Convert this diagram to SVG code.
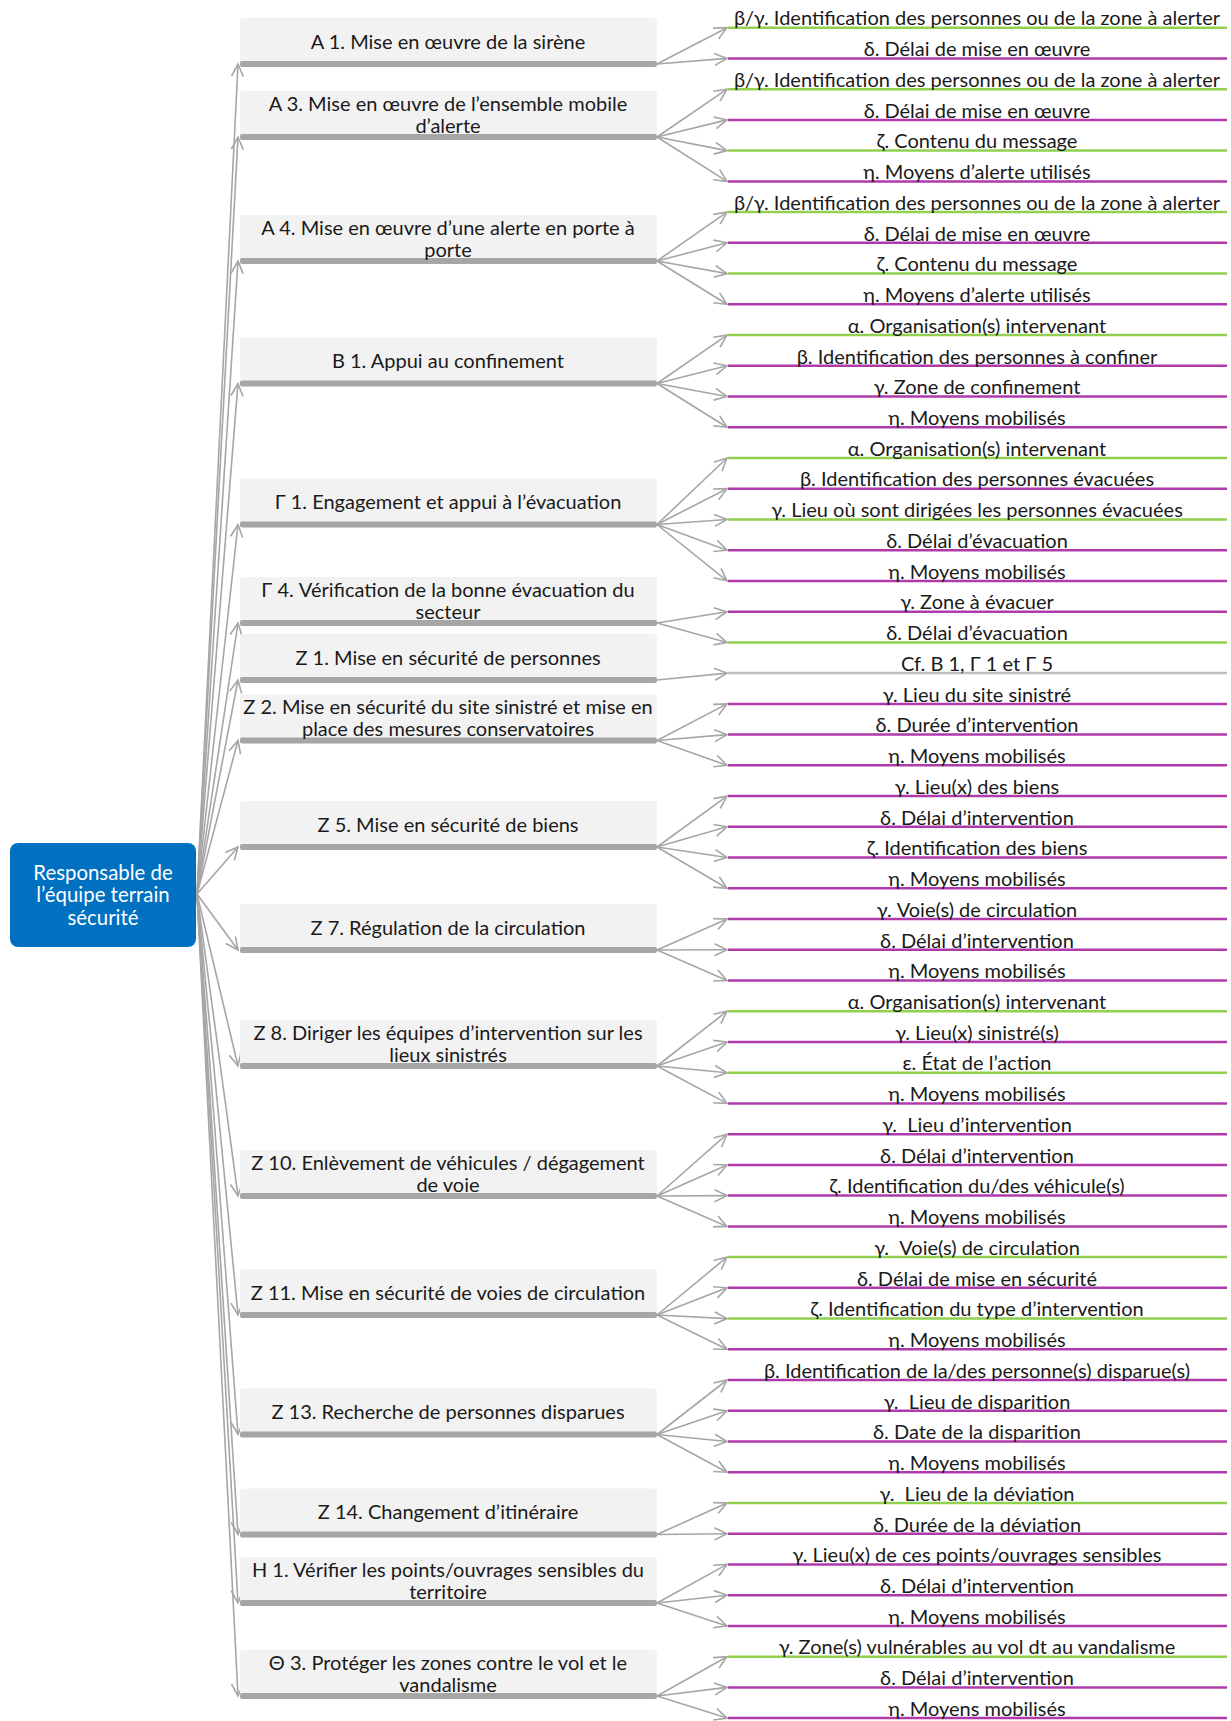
<svg xmlns="http://www.w3.org/2000/svg" width="1231" height="1721" viewBox="0 0 1231 1721">
<style>
.box{fill:#F2F2F2}
.bar{fill:#A6A6A6}
.nt{font-family:Lato,"Liberation Sans",sans-serif;font-size:20px;fill:#1a1a1a;text-anchor:middle}
.lt{font-family:Lato,"Liberation Sans",sans-serif;font-size:20px;fill:#1a1a1a;text-anchor:middle}
.rt{font-family:Lato,"Liberation Sans",sans-serif;font-size:20.4px;fill:#ffffff;text-anchor:middle}
.g{stroke:#92D050;stroke-width:2.5}
.m{stroke:#AE3AAB;stroke-width:2.5}
.k{stroke:#BFBFBF;stroke-width:2.5}
.c line{stroke:#A6A6A6;stroke-width:1.6;fill:none;marker-end:url(#ah)}
</style>
<defs>
<marker id="ah" markerUnits="userSpaceOnUse" markerWidth="16" markerHeight="16" viewBox="0 0 16 16" refX="14" refY="8" orient="auto">
<path d="M1.5,2 L14,8 L1.5,14" fill="none" stroke="#A6A6A6" stroke-width="1.6"/>
</marker>
</defs>

<g id="root">
<rect x="10" y="843" width="186" height="104" rx="8" fill="#0070C0"/>
<text class="rt" x="103" y="880">Responsable de</text>
<text class="rt" x="103" y="902">l’équipe terrain</text>
<text class="rt" x="103" y="925">sécurité</text>
</g>

<g id="connectors" class="c">
<line x1="197" y1="894" x2="238" y2="64"/>
<line x1="197" y1="894" x2="238" y2="137"/>
<line x1="197" y1="894" x2="238" y2="261"/>
<line x1="197" y1="894" x2="238" y2="383.5"/>
<line x1="197" y1="894" x2="238" y2="524.5"/>
<line x1="197" y1="894" x2="238" y2="623"/>
<line x1="197" y1="894" x2="238" y2="680"/>
<line x1="197" y1="894" x2="238" y2="740.5"/>
<line x1="197" y1="894" x2="238" y2="847"/>
<line x1="197" y1="894" x2="238" y2="950"/>
<line x1="197" y1="894" x2="238" y2="1066"/>
<line x1="197" y1="894" x2="238" y2="1196"/>
<line x1="197" y1="894" x2="238" y2="1315"/>
<line x1="197" y1="894" x2="238" y2="1434.5"/>
<line x1="197" y1="894" x2="238" y2="1534.5"/>
<line x1="197" y1="894" x2="238" y2="1603"/>
<line x1="197" y1="894" x2="238" y2="1696"/>

<line x1="657" y1="64" x2="727" y2="27.7"/>
<line x1="657" y1="64" x2="727" y2="58.4"/>
<line x1="657" y1="137" x2="727" y2="89.2"/>
<line x1="657" y1="137" x2="727" y2="119.9"/>
<line x1="657" y1="137" x2="727" y2="150.6"/>
<line x1="657" y1="137" x2="727" y2="181.4"/>
<line x1="657" y1="261" x2="727" y2="212.1"/>
<line x1="657" y1="261" x2="727" y2="242.8"/>
<line x1="657" y1="261" x2="727" y2="273.6"/>
<line x1="657" y1="261" x2="727" y2="304.3"/>
<line x1="657" y1="383.5" x2="727" y2="335.1"/>
<line x1="657" y1="383.5" x2="727" y2="365.8"/>
<line x1="657" y1="383.5" x2="727" y2="396.5"/>
<line x1="657" y1="383.5" x2="727" y2="427.3"/>
<line x1="657" y1="524.5" x2="727" y2="458"/>
<line x1="657" y1="524.5" x2="727" y2="488.7"/>
<line x1="657" y1="524.5" x2="727" y2="519.5"/>
<line x1="657" y1="524.5" x2="727" y2="550.2"/>
<line x1="657" y1="524.5" x2="727" y2="580.9"/>
<line x1="657" y1="623" x2="727" y2="611.7"/>
<line x1="657" y1="623" x2="727" y2="642.4"/>
<line x1="657" y1="680" x2="727" y2="673.1"/>
<line x1="657" y1="740.5" x2="727" y2="703.9"/>
<line x1="657" y1="740.5" x2="727" y2="734.6"/>
<line x1="657" y1="740.5" x2="727" y2="765.3"/>
<line x1="657" y1="847" x2="727" y2="796.1"/>
<line x1="657" y1="847" x2="727" y2="826.8"/>
<line x1="657" y1="847" x2="727" y2="857.5"/>
<line x1="657" y1="847" x2="727" y2="888.3"/>
<line x1="657" y1="950" x2="727" y2="919"/>
<line x1="657" y1="950" x2="727" y2="949.8"/>
<line x1="657" y1="950" x2="727" y2="980.5"/>
<line x1="657" y1="1066" x2="727" y2="1011.2"/>
<line x1="657" y1="1066" x2="727" y2="1042"/>
<line x1="657" y1="1066" x2="727" y2="1072.7"/>
<line x1="657" y1="1066" x2="727" y2="1103.4"/>
<line x1="657" y1="1196" x2="727" y2="1134.2"/>
<line x1="657" y1="1196" x2="727" y2="1164.9"/>
<line x1="657" y1="1196" x2="727" y2="1195.6"/>
<line x1="657" y1="1196" x2="727" y2="1226.4"/>
<line x1="657" y1="1315" x2="727" y2="1257.1"/>
<line x1="657" y1="1315" x2="727" y2="1287.8"/>
<line x1="657" y1="1315" x2="727" y2="1318.6"/>
<line x1="657" y1="1315" x2="727" y2="1349.3"/>
<line x1="657" y1="1434.5" x2="727" y2="1380"/>
<line x1="657" y1="1434.5" x2="727" y2="1410.8"/>
<line x1="657" y1="1434.5" x2="727" y2="1441.5"/>
<line x1="657" y1="1434.5" x2="727" y2="1472.2"/>
<line x1="657" y1="1534.5" x2="727" y2="1503"/>
<line x1="657" y1="1534.5" x2="727" y2="1533.7"/>
<line x1="657" y1="1603" x2="727" y2="1564.4"/>
<line x1="657" y1="1603" x2="727" y2="1595.2"/>
<line x1="657" y1="1603" x2="727" y2="1625.9"/>
<line x1="657" y1="1696" x2="727" y2="1656.7"/>
<line x1="657" y1="1696" x2="727" y2="1687.4"/>
<line x1="657" y1="1696" x2="727" y2="1718.1"/>
</g>

<g id="n-A1"><rect class="box" x="240" y="18" width="417" height="49" rx="3"/><rect class="bar" x="240" y="61" width="417" height="6" rx="2"/><text class="nt" x="448" y="48.5">A 1. Mise en œuvre de la sirène</text></g>
<g id="n-A3"><rect class="box" x="240" y="91" width="417" height="49" rx="3"/><rect class="bar" x="240" y="134" width="417" height="6" rx="2"/><text class="nt" x="448" y="110.5">A 3. Mise en œuvre de l’ensemble mobile</text><text class="nt" x="448" y="132.5">d’alerte</text></g>
<g id="n-A4"><rect class="box" x="240" y="215" width="417" height="49" rx="3"/><rect class="bar" x="240" y="258" width="417" height="6" rx="2"/><text class="nt" x="448" y="234.5">A 4. Mise en œuvre d’une alerte en porte à</text><text class="nt" x="448" y="256.5">porte</text></g>
<g id="n-B1"><rect class="box" x="240" y="337.5" width="417" height="49" rx="3"/><rect class="bar" x="240" y="380.5" width="417" height="6" rx="2"/><text class="nt" x="448" y="368">B 1. Appui au confinement</text></g>
<g id="n-G1"><rect class="box" x="240" y="478.5" width="417" height="49" rx="3"/><rect class="bar" x="240" y="521.5" width="417" height="6" rx="2"/><text class="nt" x="448" y="509">Γ 1. Engagement et appui à l’évacuation</text></g>
<g id="n-G4"><rect class="box" x="240" y="577" width="417" height="49" rx="3"/><rect class="bar" x="240" y="620" width="417" height="6" rx="2"/><text class="nt" x="448" y="596.5">Γ 4. Vérification de la bonne évacuation du</text><text class="nt" x="448" y="618.5">secteur</text></g>
<g id="n-Z1"><rect class="box" x="240" y="634" width="417" height="49" rx="3"/><rect class="bar" x="240" y="677" width="417" height="6" rx="2"/><text class="nt" x="448" y="664.5">Z 1. Mise en sécurité de personnes</text></g>
<g id="n-Z2"><rect class="box" x="240" y="694.5" width="417" height="49" rx="3"/><rect class="bar" x="240" y="737.5" width="417" height="6" rx="2"/><text class="nt" x="448" y="714">Z 2. Mise en sécurité du site sinistré et mise en</text><text class="nt" x="448" y="736">place des mesures conservatoires</text></g>
<g id="n-Z5"><rect class="box" x="240" y="801" width="417" height="49" rx="3"/><rect class="bar" x="240" y="844" width="417" height="6" rx="2"/><text class="nt" x="448" y="831.5">Z 5. Mise en sécurité de biens</text></g>
<g id="n-Z7"><rect class="box" x="240" y="904" width="417" height="49" rx="3"/><rect class="bar" x="240" y="947" width="417" height="6" rx="2"/><text class="nt" x="448" y="934.5">Z 7. Régulation de la circulation</text></g>
<g id="n-Z8"><rect class="box" x="240" y="1020" width="417" height="49" rx="3"/><rect class="bar" x="240" y="1063" width="417" height="6" rx="2"/><text class="nt" x="448" y="1039.5">Z 8. Diriger les équipes d’intervention sur les</text><text class="nt" x="448" y="1061.5">lieux sinistrés</text></g>
<g id="n-Z10"><rect class="box" x="240" y="1150" width="417" height="49" rx="3"/><rect class="bar" x="240" y="1193" width="417" height="6" rx="2"/><text class="nt" x="448" y="1169.5">Z 10. Enlèvement de véhicules / dégagement</text><text class="nt" x="448" y="1191.5">de voie</text></g>
<g id="n-Z11"><rect class="box" x="240" y="1269" width="417" height="49" rx="3"/><rect class="bar" x="240" y="1312" width="417" height="6" rx="2"/><text class="nt" x="448" y="1299.5">Z 11. Mise en sécurité de voies de circulation</text></g>
<g id="n-Z13"><rect class="box" x="240" y="1388.5" width="417" height="49" rx="3"/><rect class="bar" x="240" y="1431.5" width="417" height="6" rx="2"/><text class="nt" x="448" y="1419">Z 13. Recherche de personnes disparues</text></g>
<g id="n-Z14"><rect class="box" x="240" y="1488.5" width="417" height="49" rx="3"/><rect class="bar" x="240" y="1531.5" width="417" height="6" rx="2"/><text class="nt" x="448" y="1519">Z 14. Changement d’itinéraire</text></g>
<g id="n-H1"><rect class="box" x="240" y="1557" width="417" height="49" rx="3"/><rect class="bar" x="240" y="1600" width="417" height="6" rx="2"/><text class="nt" x="448" y="1576.5">H 1. Vérifier les points/ouvrages sensibles du</text><text class="nt" x="448" y="1598.5">territoire</text></g>
<g id="n-T3"><rect class="box" x="240" y="1650" width="417" height="49" rx="3"/><rect class="bar" x="240" y="1693" width="417" height="6" rx="2"/><text class="nt" x="448" y="1669.5">Θ 3. Protéger les zones contre le vol et le</text><text class="nt" x="448" y="1691.5">vandalisme</text></g>

<g id="leaves">
<g id="l0"><line class="g" x1="728" y1="27.7" x2="1227" y2="27.7"/><text class="lt" x="977" y="25">β/γ. Identification des personnes ou de la zone à alerter</text></g>
<g id="l1"><line class="m" x1="728" y1="58.4" x2="1227" y2="58.4"/><text class="lt" x="977" y="56">δ. Délai de mise en œuvre</text></g>
<g id="l2"><line class="g" x1="728" y1="89.2" x2="1227" y2="89.2"/><text class="lt" x="977" y="86.5">β/γ. Identification des personnes ou de la zone à alerter</text></g>
<g id="l3"><line class="m" x1="728" y1="119.9" x2="1227" y2="119.9"/><text class="lt" x="977" y="117.5">δ. Délai de mise en œuvre</text></g>
<g id="l4"><line class="g" x1="728" y1="150.6" x2="1227" y2="150.6"/><text class="lt" x="977" y="148">ζ. Contenu du message</text></g>
<g id="l5"><line class="m" x1="728" y1="181.4" x2="1227" y2="181.4"/><text class="lt" x="977" y="179">η. Moyens d’alerte utilisés</text></g>
<g id="l6"><line class="g" x1="728" y1="212.1" x2="1227" y2="212.1"/><text class="lt" x="977" y="209.5">β/γ. Identification des personnes ou de la zone à alerter</text></g>
<g id="l7"><line class="m" x1="728" y1="242.8" x2="1227" y2="242.8"/><text class="lt" x="977" y="240.5">δ. Délai de mise en œuvre</text></g>
<g id="l8"><line class="g" x1="728" y1="273.6" x2="1227" y2="273.6"/><text class="lt" x="977" y="271">ζ. Contenu du message</text></g>
<g id="l9"><line class="m" x1="728" y1="304.3" x2="1227" y2="304.3"/><text class="lt" x="977" y="302">η. Moyens d’alerte utilisés</text></g>
<g id="l10"><line class="g" x1="728" y1="335.1" x2="1227" y2="335.1"/><text class="lt" x="977" y="332.5">α. Organisation(s) intervenant</text></g>
<g id="l11"><line class="m" x1="728" y1="365.8" x2="1227" y2="365.8"/><text class="lt" x="977" y="363.5">β. Identification des personnes à confiner</text></g>
<g id="l12"><line class="m" x1="728" y1="396.5" x2="1227" y2="396.5"/><text class="lt" x="977" y="394">γ. Zone de confinement</text></g>
<g id="l13"><line class="m" x1="728" y1="427.3" x2="1227" y2="427.3"/><text class="lt" x="977" y="425">η. Moyens mobilisés</text></g>
<g id="l14"><line class="g" x1="728" y1="458" x2="1227" y2="458"/><text class="lt" x="977" y="455.5">α. Organisation(s) intervenant</text></g>
<g id="l15"><line class="m" x1="728" y1="488.7" x2="1227" y2="488.7"/><text class="lt" x="977" y="486">β. Identification des personnes évacuées</text></g>
<g id="l16"><line class="g" x1="728" y1="519.5" x2="1227" y2="519.5"/><text class="lt" x="977" y="517">γ. Lieu où sont dirigées les personnes évacuées</text></g>
<g id="l17"><line class="m" x1="728" y1="550.2" x2="1227" y2="550.2"/><text class="lt" x="977" y="547.5">δ. Délai d’évacuation</text></g>
<g id="l18"><line class="m" x1="728" y1="580.9" x2="1227" y2="580.9"/><text class="lt" x="977" y="578.5">η. Moyens mobilisés</text></g>
<g id="l19"><line class="m" x1="728" y1="611.7" x2="1227" y2="611.7"/><text class="lt" x="977" y="609">γ. Zone à évacuer</text></g>
<g id="l20"><line class="g" x1="728" y1="642.4" x2="1227" y2="642.4"/><text class="lt" x="977" y="640">δ. Délai d’évacuation</text></g>
<g id="l21"><line class="k" x1="728" y1="673.1" x2="1227" y2="673.1"/><text class="lt" x="977" y="670.5">Cf. B 1, Γ 1 et Γ 5</text></g>
<g id="l22"><line class="m" x1="728" y1="703.9" x2="1227" y2="703.9"/><text class="lt" x="977" y="701.5">γ. Lieu du site sinistré</text></g>
<g id="l23"><line class="m" x1="728" y1="734.6" x2="1227" y2="734.6"/><text class="lt" x="977" y="732">δ. Durée d’intervention</text></g>
<g id="l24"><line class="m" x1="728" y1="765.3" x2="1227" y2="765.3"/><text class="lt" x="977" y="763">η. Moyens mobilisés</text></g>
<g id="l25"><line class="m" x1="728" y1="796.1" x2="1227" y2="796.1"/><text class="lt" x="977" y="793.5">γ. Lieu(x) des biens</text></g>
<g id="l26"><line class="m" x1="728" y1="826.8" x2="1227" y2="826.8"/><text class="lt" x="977" y="824.5">δ. Délai d’intervention</text></g>
<g id="l27"><line class="m" x1="728" y1="857.5" x2="1227" y2="857.5"/><text class="lt" x="977" y="855">ζ. Identification des biens</text></g>
<g id="l28"><line class="m" x1="728" y1="888.3" x2="1227" y2="888.3"/><text class="lt" x="977" y="886">η. Moyens mobilisés</text></g>
<g id="l29"><line class="m" x1="728" y1="919" x2="1227" y2="919"/><text class="lt" x="977" y="916.5">γ. Voie(s) de circulation</text></g>
<g id="l30"><line class="m" x1="728" y1="949.8" x2="1227" y2="949.8"/><text class="lt" x="977" y="947.5">δ. Délai d’intervention</text></g>
<g id="l31"><line class="m" x1="728" y1="980.5" x2="1227" y2="980.5"/><text class="lt" x="977" y="978">η. Moyens mobilisés</text></g>
<g id="l32"><line class="g" x1="728" y1="1011.2" x2="1227" y2="1011.2"/><text class="lt" x="977" y="1008.5">α. Organisation(s) intervenant</text></g>
<g id="l33"><line class="m" x1="728" y1="1042" x2="1227" y2="1042"/><text class="lt" x="977" y="1039.5">γ. Lieu(x) sinistré(s)</text></g>
<g id="l34"><line class="g" x1="728" y1="1072.7" x2="1227" y2="1072.7"/><text class="lt" x="977" y="1070">ε. État de l’action</text></g>
<g id="l35"><line class="m" x1="728" y1="1103.4" x2="1227" y2="1103.4"/><text class="lt" x="977" y="1101">η. Moyens mobilisés</text></g>
<g id="l36"><line class="m" x1="728" y1="1134.2" x2="1227" y2="1134.2"/><text class="lt" x="977" y="1131.5">γ.&#160; Lieu d’intervention</text></g>
<g id="l37"><line class="m" x1="728" y1="1164.9" x2="1227" y2="1164.9"/><text class="lt" x="977" y="1162.5">δ. Délai d’intervention</text></g>
<g id="l38"><line class="m" x1="728" y1="1195.6" x2="1227" y2="1195.6"/><text class="lt" x="977" y="1193">ζ. Identification du/des véhicule(s)</text></g>
<g id="l39"><line class="m" x1="728" y1="1226.4" x2="1227" y2="1226.4"/><text class="lt" x="977" y="1224">η. Moyens mobilisés</text></g>
<g id="l40"><line class="g" x1="728" y1="1257.1" x2="1227" y2="1257.1"/><text class="lt" x="977" y="1254.5">γ.&#160; Voie(s) de circulation</text></g>
<g id="l41"><line class="m" x1="728" y1="1287.8" x2="1227" y2="1287.8"/><text class="lt" x="977" y="1285.5">δ. Délai de mise en sécurité</text></g>
<g id="l42"><line class="g" x1="728" y1="1318.6" x2="1227" y2="1318.6"/><text class="lt" x="977" y="1316">ζ. Identification du type d’intervention</text></g>
<g id="l43"><line class="m" x1="728" y1="1349.3" x2="1227" y2="1349.3"/><text class="lt" x="977" y="1347">η. Moyens mobilisés</text></g>
<g id="l44"><line class="m" x1="728" y1="1380" x2="1227" y2="1380"/><text class="lt" x="977" y="1377.5">β. Identification de la/des personne(s) disparue(s)</text></g>
<g id="l45"><line class="m" x1="728" y1="1410.8" x2="1227" y2="1410.8"/><text class="lt" x="977" y="1408.5">γ.&#160; Lieu de disparition</text></g>
<g id="l46"><line class="m" x1="728" y1="1441.5" x2="1227" y2="1441.5"/><text class="lt" x="977" y="1439">δ. Date de la disparition</text></g>
<g id="l47"><line class="m" x1="728" y1="1472.2" x2="1227" y2="1472.2"/><text class="lt" x="977" y="1470">η. Moyens mobilisés</text></g>
<g id="l48"><line class="g" x1="728" y1="1503" x2="1227" y2="1503"/><text class="lt" x="977" y="1500.5">γ.&#160; Lieu de la déviation</text></g>
<g id="l49"><line class="m" x1="728" y1="1533.7" x2="1227" y2="1533.7"/><text class="lt" x="977" y="1531.5">δ. Durée de la déviation</text></g>
<g id="l50"><line class="m" x1="728" y1="1564.4" x2="1227" y2="1564.4"/><text class="lt" x="977" y="1562">γ. Lieu(x) de ces points/ouvrages sensibles</text></g>
<g id="l51"><line class="m" x1="728" y1="1595.2" x2="1227" y2="1595.2"/><text class="lt" x="977" y="1592.5">δ. Délai d’intervention</text></g>
<g id="l52"><line class="m" x1="728" y1="1625.9" x2="1227" y2="1625.9"/><text class="lt" x="977" y="1623.5">η. Moyens mobilisés</text></g>
<g id="l53"><line class="g" x1="728" y1="1656.7" x2="1227" y2="1656.7"/><text class="lt" x="977" y="1654">γ. Zone(s) vulnérables au vol dt au vandalisme</text></g>
<g id="l54"><line class="m" x1="728" y1="1687.4" x2="1227" y2="1687.4"/><text class="lt" x="977" y="1685">δ. Délai d’intervention</text></g>
<g id="l55"><line class="m" x1="728" y1="1718.1" x2="1227" y2="1718.1"/><text class="lt" x="977" y="1715.5">η. Moyens mobilisés</text></g>
</g>
</svg>
